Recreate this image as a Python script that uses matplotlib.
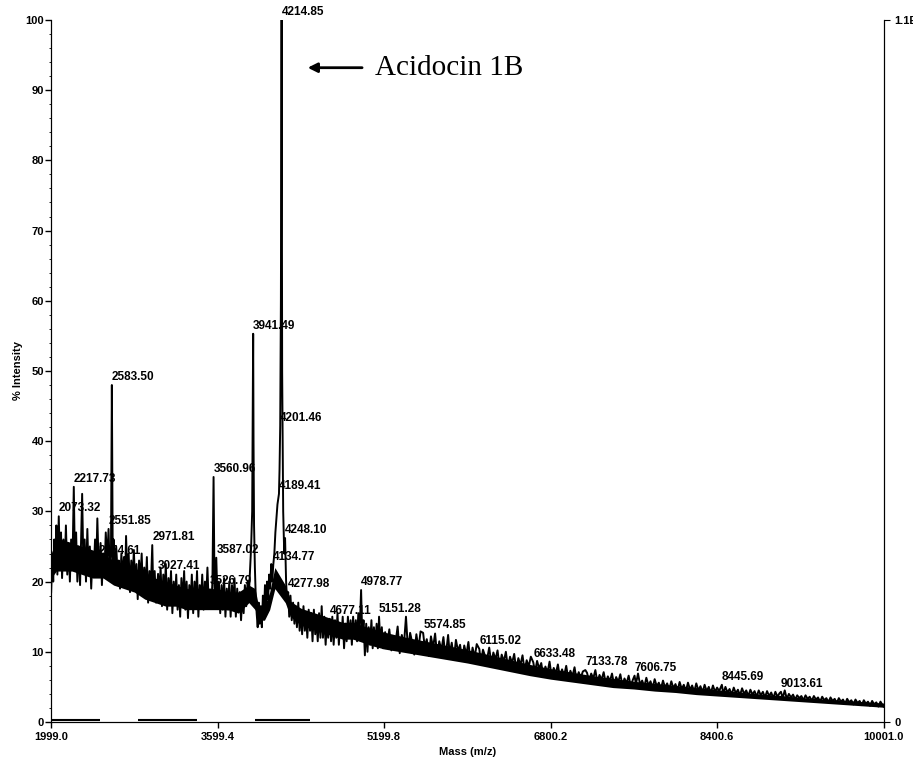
import numpy as np
import matplotlib.pyplot as plt
from matplotlib.ticker import MultipleLocator

plt.rcParams['font.family'] = ['Liberation Sans', 'DejaVu Sans']

# labelled peaks (m/z, % intensity, label text)
peak_mass = [2073.32, 2217.73, 2454.61, 2551.85, 2583.50, 2971.81, 3027.41,
             3526.79, 3560.96, 3587.02, 3941.49, 4134.77, 4189.41, 4201.46,
             4214.85, 4248.10, 4277.98, 4677.11, 4978.77, 5151.28, 5574.85,
             6115.02, 6633.48, 7133.78, 7606.75, 8445.69, 9013.61]
peak_int = [29.3, 33.5, 23.2, 27.5, 48.0, 25.2, 21.1,
            18.9, 34.9, 23.4, 55.3, 22.4, 32.5, 42.2,
            100.0, 26.2, 18.5, 14.7, 18.8, 15.0, 12.7,
            10.4, 8.5, 7.4, 6.6, 5.3, 4.3]
peak_text = ['2073.32', '2217.73', '2454.61', '2551.85', '2583.50', '2971.81', '3027.41',
             '3526.79', '3560.96', '3587.02', '3941.49', '4134.77', '4189.41', '4201.46',
             '4214.85', '4248.10', '4277.98', '4677.11', '4978.77', '5151.28', '5574.85',
             '6115.02', '6633.48', '7133.78', '7606.75', '8445.69', '9013.61']

# background trace
noise_mass = [2000, 2010, 2020, 2030, 2040, 2050, 2060, 2085, 2095, 2105, 2118, 2130,
              2142, 2155, 2168, 2180, 2192, 2205, 2228, 2240, 2252, 2265, 2278, 2298,
              2310, 2322, 2335, 2348, 2360, 2372, 2385, 2398, 2410, 2422, 2435, 2444,
              2462, 2475, 2488, 2500, 2512, 2525, 2538, 2562, 2575, 2592, 2600, 2612,
              2625, 2638, 2650, 2662, 2675, 2688, 2700, 2710, 2720, 2732, 2745, 2758,
              2770, 2782, 2795, 2808, 2820, 2832, 2845, 2858, 2870, 2882, 2895, 2908,
              2920, 2932, 2945, 2958, 2982, 2995, 3008, 3040, 3052, 3065, 3078, 3090,
              3102, 3115, 3128, 3140, 3152, 3165, 3178, 3190, 3202, 3215, 3228, 3240,
              3252, 3265, 3278, 3290, 3302, 3315, 3328, 3340, 3352, 3365, 3378, 3390,
              3402, 3415, 3428, 3440, 3452, 3465, 3478, 3490, 3502, 3515, 3540, 3550,
              3570, 3578, 3600, 3612, 3625, 3638, 3650, 3662, 3675, 3688, 3700, 3712,
              3725, 3738, 3750, 3762, 3775, 3788, 3800, 3812, 3825, 3838, 3850, 3862,
              3875, 3888, 3900, 3912, 3922, 3932, 3938, 3945, 3950, 3958, 3966, 3975,
              3985, 3995, 4005, 4015, 4025, 4035, 4045, 4055, 4065, 4075, 4085, 4095,
              4105, 4115, 4125, 4145, 4155, 4165, 4175, 4195, 4208, 4220, 4230, 4240,
              4258, 4268, 4288, 4300, 4312, 4325, 4338, 4350, 4362, 4375, 4388, 4400,
              4412, 4425, 4438, 4450, 4462, 4475, 4488, 4500, 4512, 4525, 4538, 4550,
              4562, 4575, 4588, 4600, 4612, 4625, 4638, 4650, 4662, 4690, 4702, 4715,
              4728, 4740, 4752, 4765, 4778, 4790, 4802, 4815, 4828, 4840, 4852, 4865,
              4878, 4890, 4902, 4915, 4928, 4940, 4952, 4965, 4990, 5002, 5015, 5028,
              5040, 5052, 5065, 5078, 5090, 5102, 5115, 5128, 5140, 5165, 5178, 5190,
              5210, 5230, 5250, 5270, 5290, 5310, 5330, 5350, 5370, 5390, 5410, 5430,
              5450, 5470, 5490, 5510, 5530, 5550, 5590, 5610, 5630, 5650, 5670, 5690,
              5710, 5730, 5750, 5770, 5790, 5815, 5830, 5850, 5870, 5890, 5910, 5930,
              5950, 5970, 5990, 6010, 6030, 6050, 6070, 6090, 6130, 6150, 6170, 6190,
              6210, 6230, 6250, 6270, 6290, 6310, 6330, 6350, 6370, 6390, 6410, 6430,
              6450, 6470, 6490, 6510, 6530, 6550, 6570, 6590, 6610, 6650, 6670, 6690,
              6710, 6730, 6750, 6770, 6790, 6810, 6830, 6850, 6870, 6890, 6910, 6930,
              6950, 6970, 6990, 7010, 7030, 7050, 7070, 7090, 7110, 7150, 7170, 7190,
              7210, 7230, 7250, 7270, 7290, 7310, 7330, 7350, 7370, 7390, 7410, 7430,
              7450, 7470, 7490, 7510, 7530, 7550, 7570, 7590, 7620, 7640, 7660, 7680,
              7700, 7720, 7740, 7760, 7780, 7800, 7820, 7840, 7860, 7880, 7900, 7920,
              7940, 7960, 7980, 8000, 8020, 8040, 8060, 8080, 8100, 8120, 8140, 8160,
              8180, 8200, 8220, 8240, 8260, 8280, 8300, 8320, 8340, 8360, 8380, 8400,
              8420, 8460, 8480, 8500, 8520, 8540, 8560, 8580, 8600, 8620, 8640, 8660,
              8680, 8700, 8720, 8740, 8760, 8780, 8800, 8820, 8840, 8860, 8880, 8900,
              8920, 8940, 8960, 8980, 9000, 9030, 9050, 9070, 9090, 9110, 9130, 9150,
              9170, 9190, 9210, 9230, 9250, 9270, 9290, 9310, 9330, 9350, 9370, 9390,
              9410, 9430, 9450, 9470, 9490, 9510, 9530, 9550, 9570, 9590, 9610, 9630,
              9650, 9670, 9690, 9710, 9730, 9750, 9770, 9790, 9810, 9830, 9850, 9870,
              9890, 9910, 9930, 9950, 9970, 9990, 10001]
noise_int = [18.5, 23, 20, 26, 22, 28, 21, 22, 27, 20.5, 26, 22,
             28, 21, 25.5, 20, 26, 22.5, 23, 27, 20, 25, 19.5, 32.5,
             22, 26, 20, 27.5, 21, 25, 19, 24, 21.5, 26, 23, 29,
             22, 25.5, 19.5, 24, 21, 27, 23, 22, 24, 23, 26, 20,
             25, 21.5, 23, 19, 24, 20.5, 23.5, 19.5, 26.5, 21, 24, 18.5,
             23, 20, 24.5, 19, 22.5, 17.5, 23, 20, 24, 18.5, 22, 19,
             23.5, 17, 21.5, 19, 18, 21.5, 17, 18.5, 22, 16.5, 21, 18,
             22.5, 16, 20.5, 17.5, 21.5, 15.5, 20, 17, 21, 16, 19.5, 15,
             20.5, 17, 21.5, 16, 20, 14.8, 19.5, 16.5, 21, 15.5, 20, 17,
             21.5, 15, 19.5, 17, 21, 16, 20, 17.5, 22, 16.5, 17, 20,
             19, 17, 16.5, 20, 15.5, 19.5, 16, 20.5, 15, 19, 16, 20,
             15, 19.5, 16.5, 20.5, 15, 19, 16, 18.5, 14.5, 18, 15.5, 19.5,
             16.5, 20, 18, 22, 25, 30, 45, 40, 28, 22, 18, 15.5,
             13.5, 17, 14, 16.5, 13.5, 18, 15, 19.5, 16, 20, 17.5, 21,
             19, 22.5, 20, 24, 27, 29, 31, 36, 60, 50, 30, 24,
             20, 17, 15, 18, 14.5, 17, 14, 16.5, 13.5, 17, 13, 16,
             12.5, 16.5, 13, 15.5, 12, 16, 13, 15.5, 11.5, 16, 12.5, 15,
             11.5, 15.5, 12, 16.5, 12, 15, 11, 14.5, 12, 11.5, 15, 11,
             14.5, 12, 15.5, 11, 14, 12, 15, 10.5, 14, 11.5, 15, 12,
             14.5, 11, 15, 12, 14.5, 11.5, 15.5, 13, 12, 14.5, 9.5, 14,
             10, 13.5, 11, 14.5, 10.5, 13.5, 11, 14, 10.5, 11, 13.5, 10.5,
             12.8, 11, 13.2, 10.2, 12.1, 11.4, 13.6, 9.8, 12.4, 10.9, 15, 10.1,
             12.7, 11.3, 9.6, 12.5, 10.4, 12.9, 10.7, 11.8, 9.4, 12.2, 10.6, 12.6,
             9.3, 11.5, 10.2, 12.1, 9.1, 12.4, 9.7, 11.3, 8.9, 11.7, 10.1, 11.0,
             8.7, 10.9, 9.6, 11.4, 8.5, 10.6, 9.2, 11.1, 8.4, 10.3, 9.4, 9.0,
             10.6, 8.3, 9.9, 8.9, 10.2, 7.8, 9.6, 8.6, 10.0, 7.7, 9.3, 8.4,
             9.7, 7.4, 9.1, 8.1, 9.5, 7.3, 8.8, 7.9, 9.3, 7.1, 8.7, 7.6,
             8.4, 6.5, 7.9, 7.0, 8.6, 6.4, 7.7, 6.9, 8.2, 6.2, 7.5, 6.6,
             8.0, 6.1, 7.3, 6.5, 7.8, 5.9, 7.1, 6.3, 7.2, 7.0, 5.8, 6.9,
             6.2, 7.4, 5.6, 6.7, 6.0, 7.1, 5.5, 6.5, 5.8, 6.9, 5.3, 6.4,
             5.7, 6.8, 5.2, 6.2, 5.5, 6.6, 5.1, 6.0, 5.4, 6.9, 5.3, 5.9,
             5.0, 6.3, 5.2, 5.8, 4.8, 6.1, 5.1, 5.6, 4.7, 5.9, 4.9, 5.5,
             4.6, 5.8, 4.8, 5.4, 4.5, 5.7, 4.7, 5.3, 4.4, 5.6, 4.6, 5.2,
             4.3, 5.5, 4.5, 5.1, 4.2, 5.3, 4.4, 5.0, 4.1, 5.2, 4.3, 4.9,
             4.4, 4.0, 5.0, 4.2, 4.7, 3.9, 4.9, 4.1, 4.6, 3.8, 4.8, 4.0,
             4.5, 3.7, 4.6, 3.9, 4.4, 3.6, 4.5, 3.8, 4.3, 3.5, 4.4, 3.7,
             4.2, 3.4, 4.3, 3.6, 4.1, 3.4, 4.5, 3.3, 4.0, 3.5, 3.9, 3.2,
             3.8, 3.4, 3.7, 3.1, 3.8, 3.3, 3.6, 3.0, 3.7, 3.2, 3.5, 2.9,
             3.6, 3.1, 3.4, 2.8, 3.5, 3.0, 3.3, 2.7, 3.4, 2.9, 3.2, 2.6,
             3.3, 2.8, 3.1, 2.5, 3.2, 2.7, 3.0, 2.4, 3.1, 2.6, 2.9, 2.3,
             3.0, 2.5, 2.8, 2.2, 2.9, 2.4, 2.2]
assert len(noise_mass) == len(noise_int)

# dark core of the noise band (low / high edges)
band_mass = [2000, 2050, 2100, 2200, 2300, 2400, 2500, 2600, 2700, 2800, 2900, 3000,
             3100, 3200, 3300, 3400, 3500, 3600, 3700, 3800, 3900, 3960, 4000, 4050,
             4100, 4150, 4250, 4300, 4400, 4500, 4600, 4700, 4800, 4900, 5000, 5100,
             5200, 5400, 5600, 5800, 6000, 6200, 6400, 6600, 6800, 7000, 7200, 7400,
             7600, 7800, 8000, 8200, 8400, 8600, 8800, 9000, 9200, 9400, 9600, 9800, 10001]
band_low = [20.5, 21.5, 21.5, 21.5, 21, 20.5, 20.5, 19.5, 19, 18.5, 17.5, 17,
            16.5, 16.5, 16, 16, 16, 16, 16, 15.5, 17, 16, 14.5, 14.5,
            16, 19, 17, 15, 13.8, 13.3, 12.8, 12.3, 11.8, 11.8, 11.3, 10.8,
            10.4, 9.9, 9.4, 8.9, 8.4, 7.8, 7.2, 6.6, 6.1, 5.7, 5.3, 4.9,
            4.7, 4.4, 4.2, 3.9, 3.7, 3.5, 3.3, 3.1, 2.9, 2.7, 2.5, 2.3, 2.1]
band_high = [24, 26, 26, 25.5, 25, 24.5, 24, 23, 22.5, 22, 21, 20.5,
             20, 19.5, 19, 19, 19, 19, 18.5, 18.5, 19.5, 19, 16, 16.5,
             18.5, 22, 19.5, 17.2, 16.2, 15.7, 15.2, 14.7, 14.2, 14.2, 13.7, 13.2,
             12.8, 12.1, 11.5, 10.9, 10.3, 9.6, 8.9, 8.2, 7.6, 7.1, 6.6, 6.2,
             5.8, 5.5, 5.2, 4.9, 4.6, 4.3, 4.0, 3.8, 3.5, 3.3, 3.1, 2.9, 2.7]

# short marks drawn along the zero line
base_start = [2000, 2835, 3960]
base_end = [2470, 3400, 4490]

x_ticks = [1999.0, 3599.4, 5199.8, 6800.2, 8400.6, 10001.0]
x_labels = ['1999.0', '3599.4', '5199.8', '6800.2', '8400.6', '10001.0']

mass = np.array(noise_mass + peak_mass)
inten = np.array(noise_int + peak_int)
order = np.argsort(mass)
mass = mass[order]
inten = inten[order]

fig = plt.figure(figsize=(9.13, 7.62), dpi=100)
ax = fig.add_axes([0.0559, 0.0525, 0.912, 0.9213])

ax.fill_between(band_mass, band_low, band_high, color='black', lw=0)
ax.plot(mass, inten, color='black', lw=1.4)
ax.hlines([0.35] * len(base_start), base_start, base_end, color='black', lw=1.5)

for m, h, t in zip(peak_mass, peak_int, peak_text):
    ax.text(m, h + 0.3, t, ha='left', va='bottom', fontsize=8.5,
            fontweight='bold', clip_on=False)

ax.annotate('', xy=(4439, 93.2), xytext=(5015, 93.2),
            arrowprops=dict(arrowstyle='-|>', color='black', lw=2, mutation_scale=14))
ax.text(5111, 93.2, 'Acidocin 1B', ha='left', va='center', fontsize=21,
        family=['Liberation Serif', 'DejaVu Serif'])

ax.set_xlim(1999.0, 10001.0)
ax.set_ylim(0, 100)
ax.set_xticks(x_ticks)
ax.set_xticklabels(x_labels)
ax.yaxis.set_major_locator(MultipleLocator(10))
ax.yaxis.set_minor_locator(MultipleLocator(2))
ax.tick_params(axis='both', labelsize=8, length=4, width=1)
ax.tick_params(axis='y', pad=1)
ax.tick_params(axis='y', which='minor', length=1.5)
for lab in ax.get_xticklabels() + ax.get_yticklabels():
    lab.set_fontweight('bold')
ax.spines['top'].set_visible(False)

ax.set_xlabel('Mass (m/z)', fontsize=8, fontweight='bold', labelpad=3)
ax.set_ylabel('% Intensity', fontsize=8, fontweight='bold', labelpad=2)

ax2 = ax.twinx()
ax2.set_ylim(0, 100)
ax2.set_yticks([0, 100])
ax2.set_yticklabels(['0', '1.1E+4'], fontsize=8, fontweight='bold')
ax2.spines['top'].set_visible(False)
ax2.tick_params(axis='y', length=4)

fig.savefig('out.png', dpi=100)
